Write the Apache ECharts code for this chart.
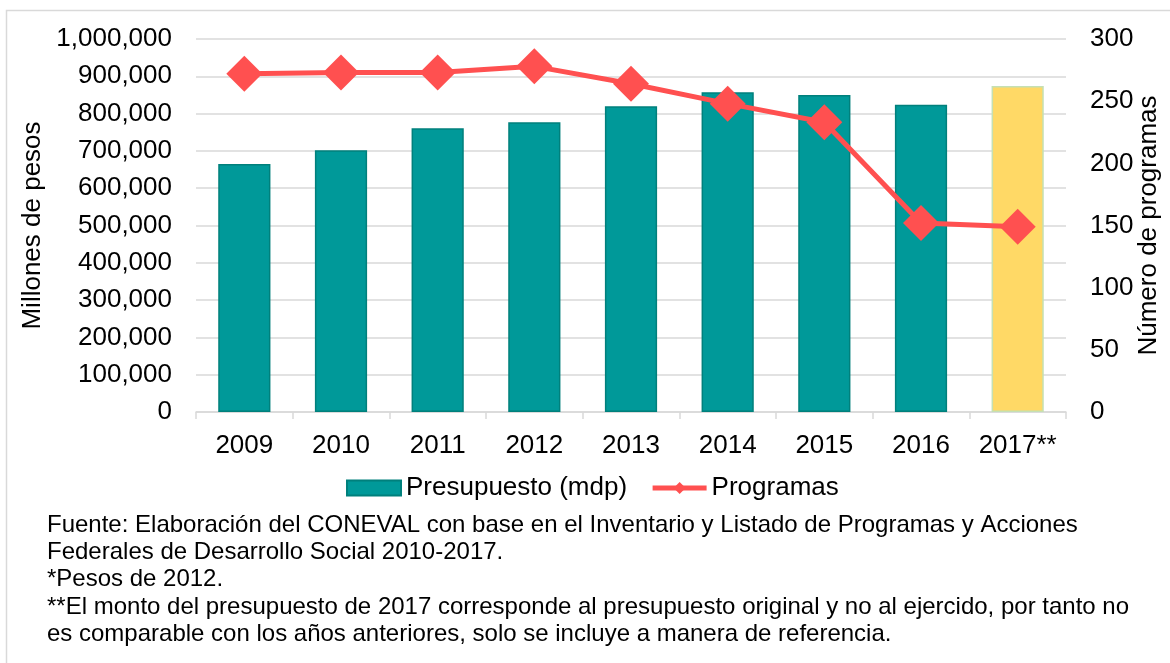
<!DOCTYPE html>
<html>
<head>
<meta charset="utf-8">
<script src="https://cdn.jsdelivr.net/npm/echarts@6/dist/echarts.min.js"></script>
<style>
  html, body { margin: 0; padding: 0; background: #fff; }
  #chart { width: 1170px; height: 663px; }
</style>
</head>
<body>
<div id="chart"></div>
<script>
// Years on the category axis
const years = ['2009', '2010', '2011', '2012', '2013', '2014', '2015', '2016', '2017**'];
// Budget in millions of pesos (2012 pesos); 2017 is the original, not executed, budget
const presupuesto = [665000, 702000, 761000, 777000, 820000, 857000, 850000, 824000, 874000];
// Number of federal social development programs
const programas = [272, 273, 273, 278, 264, 248, 233, 152, 149];
// Notes printed under the chart
const notas = [
  'Fuente: Elaboración del CONEVAL con base en el Inventario y Listado de Programas y Acciones',
  'Federales de Desarrollo Social 2010-2017.',
  '*Pesos de 2012.',
  '**El monto del presupuesto de 2017 corresponde al presupuesto original y no al ejercido, por tanto no',
  'es comparable con los años anteriores, solo se incluye a manera de referencia.'
];

const FONT = '"Liberation Sans", Arial, sans-serif';
const FS = 26;
const TEAL = '#009999';
const TEAL_EDGE = '#00807c';
const GOLD = '#ffd966';
const GOLD_EDGE = '#c5e0b4';
const RED = '#ff5050';

const barData = presupuesto.map((v, i) => i === years.length - 1
  ? { value: v, itemStyle: { color: GOLD, borderColor: GOLD_EDGE, borderWidth: 1.5 } }
  : v);

const chart = echarts.init(document.getElementById('chart'), null, { renderer: 'canvas' });

chart.setOption({
  animation: false,
  backgroundColor: '#fff',
  textStyle: { fontFamily: FONT, color: '#000' },
  grid: { left: 196, right: 104, top: 39, bottom: 251, containLabel: false, outerBoundsMode: 'none' },
  legend: {
    left: 346,
    top: 475,
    padding: 0,
    itemWidth: 54,
    itemHeight: 15,
    itemGap: 23,
    textStyle: { fontSize: FS, fontFamily: FONT, color: '#000' },
    data: [
      { name: 'Presupuesto (mdp)', icon: 'rect' },
      { name: 'Programas', lineStyle: { width: 5 } }
    ]
  },
  xAxis: {
    type: 'category',
    data: years,
    axisLine: { lineStyle: { color: '#d9d9d9', width: 1.5 } },
    axisTick: { show: true, length: 7, lineStyle: { color: '#d9d9d9', width: 1.5 } },
    axisLabel: { interval: 0, fontSize: FS, color: '#000', margin: 21, fontFamily: FONT }
  },
  yAxis: [
    {
      type: 'value',
      min: 0, max: 1000000, interval: 100000,
      name: 'Millones de pesos',
      nameLocation: 'middle',
      nameRotate: 90,
      nameGap: 150,
      nameMoveOverlap: false,
      nameTextStyle: { fontSize: FS, color: '#000', fontFamily: FONT },
      axisLine: { show: false },
      axisTick: { show: false },
      axisLabel: {
        fontSize: FS, color: '#000', margin: 24, fontFamily: FONT,
        formatter: v => v.toLocaleString('en-US')
      },
      splitLine: { lineStyle: { color: '#d9d9d9', width: 1.5 } }
    },
    {
      type: 'value',
      min: 0, max: 300, interval: 50,
      name: 'Número de programas',
      nameLocation: 'middle',
      nameRotate: 90,
      nameGap: 70,
      nameMoveOverlap: false,
      nameTextStyle: { fontSize: FS, color: '#000', fontFamily: FONT },
      axisLine: { show: false },
      axisTick: { show: false },
      axisLabel: { fontSize: FS, color: '#000', margin: 24, fontFamily: FONT },
      splitLine: { show: false }
    }
  ],
  series: [
    {
      name: 'Presupuesto (mdp)',
      type: 'bar',
      yAxisIndex: 0,
      data: barData,
      barCategoryGap: '46%',
      itemStyle: { color: TEAL, borderColor: TEAL_EDGE, borderWidth: 1.5 }
    },
    {
      name: 'Programas',
      type: 'line',
      yAxisIndex: 1,
      data: programas,
      symbol: 'diamond',
      symbolSize: 36,
      lineStyle: { color: RED, width: 5 },
      itemStyle: { color: RED }
    }
  ],
  graphic: [
    {
      type: 'rect',
      silent: true,
      shape: { x: 6.5, y: 10.5, width: 1200, height: 700 },
      style: { fill: 'none', stroke: '#d9d9d9', lineWidth: 1.5 }
    }
  ].concat(notas.map((t, i) => ({
    type: 'text',
    left: 47,
    top: 513 + i * 27.3,
    style: { text: t, fontSize: 24, fontFamily: FONT, fill: '#000' }
  })))
});
</script>
</body>
</html>
